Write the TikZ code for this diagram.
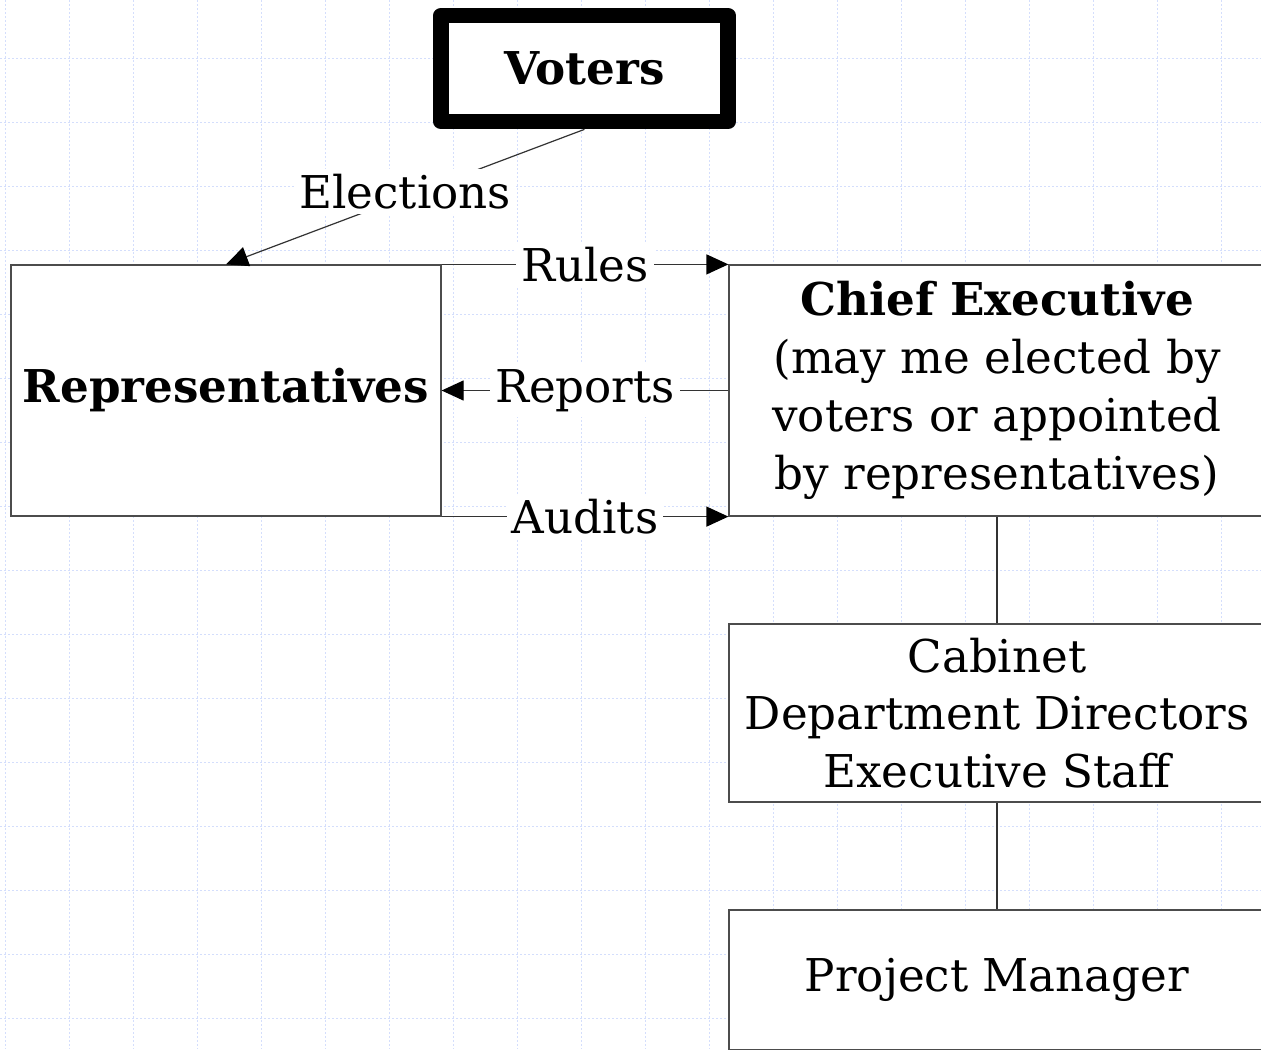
\documentclass[tikz,border=0pt]{standalone}
\usepackage{fontspec}
\setmainfont{DejaVu Serif}
\usetikzlibrary{arrows.meta}

\begin{document}
\begin{tikzpicture}[x=0.5pt,y=-0.5pt,
    every node/.style ={font=\fontsize{22.6}{28.9}\selectfont},
    gridline/.style ={draw={rgb,255:red,212;green,222;blue,252}, line width=0.5pt, dash pattern=on 1pt off 1pt},
    office/.style ={rectangle, draw=black!70, line width=0.6pt, fill=white, align=center, inner sep=0pt, minimum width=268pt},
    voterbox/.style ={rectangle, draw, line width=7.75pt, line join=round, fill=white, minimum width=143.5pt, minimum height=53pt},
    link/.style ={draw=black!80, line width=0.6pt},
    tip/.style ={-{Triangle[length=11pt,width=10pt,black]}},
    tag/.style ={fill=white, inner sep=2.5pt}]
   \useasboundingbox (0,0) rectangle (1261,1049);
   \fill[white] (0,0) rectangle (1261,1049);
   % background grid
   \foreach \x in {5,69,...,1261} \draw[gridline] (\x,0) -- (\x,1049);
   \foreach \y in {58,122,...,1049} \draw[gridline] (0,\y) -- (1261,\y);

   \node[voterbox] (V) at (584.5,68.6) {\bfseries Voters};
   \node[office, minimum width=215pt, minimum height=125.5pt] (R) at (226,390.5) {\bfseries Representatives};
   \node[office, minimum height=125.5pt] (C) at (997,390.5) {{\bfseries Chief Executive}\\(may me elected by\\voters or appointed\\by representatives)};
   \node[office, minimum height=89pt] (D) at (997,713) {Cabinet\\Department Directors\\Executive Staff};
   \node[office, minimum height=70pt] (P) at (997,980) {Project Manager};

   \draw[link, tip] (V.south) -- node[tag, yshift=2.5pt] {Elections} (R.north);
   \draw[link, tip] (R.north east) -- node[tag] {Rules} (C.north west);
   \draw[link, tip] (C.west) -- node[tag] {Reports} (R.east);
   \draw[link, tip] (R.south east) -- node[tag] {Audits} (C.south west);
   \draw[link] (C.south) -- (D.north);
   \draw[link] (D.south) -- (P.north);
\end{tikzpicture}
\end{document}
